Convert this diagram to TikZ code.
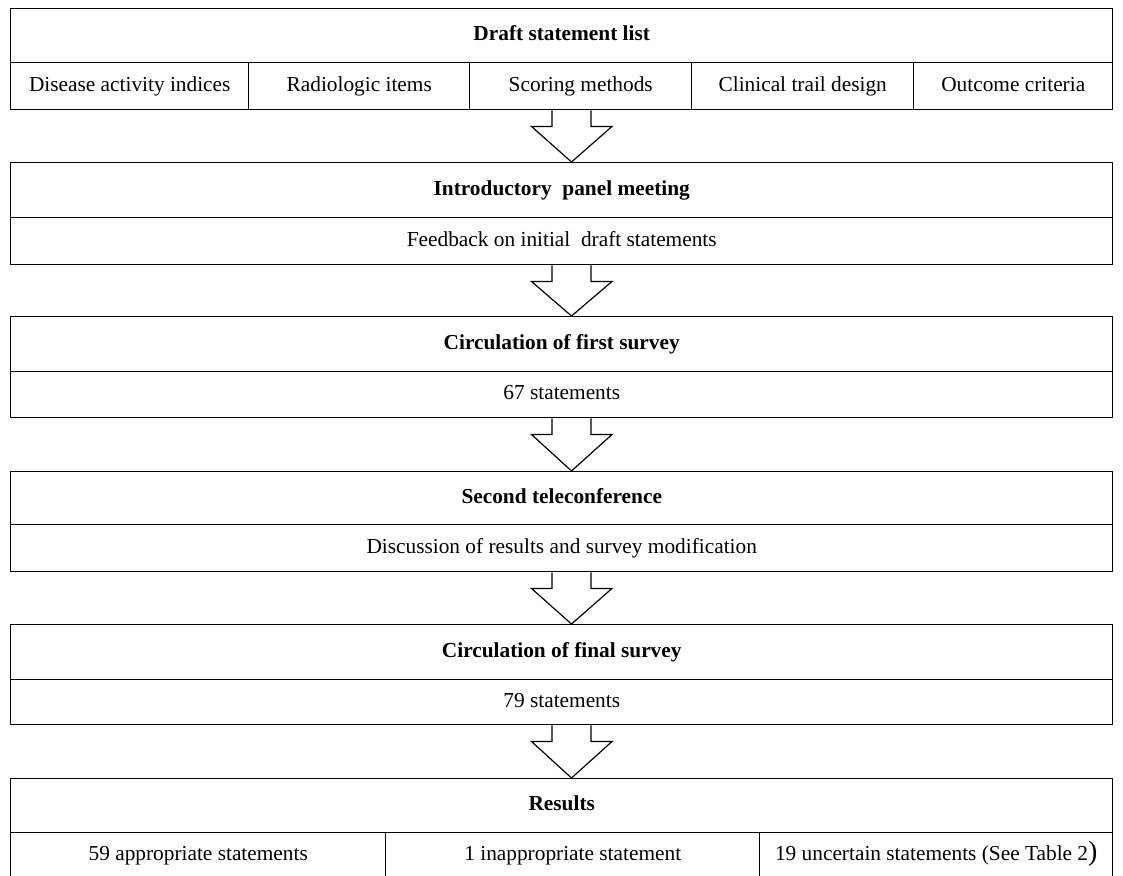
\documentclass[tikz,border=0pt]{standalone}
\usepackage{fontspec}
\setmainfont{Liberation Serif}
\usetikzlibrary{calc}
\begin{document}
\begin{tikzpicture}[x=0.75pt,y=-0.75pt,
  cell/.style={draw=black, line width=1.1pt, inner sep=0pt, anchor=north west,
    text height=11pt, text depth=3.5pt,
    font=\fontsize{16}{19}\selectfont},
  hd/.style={cell, font=\fontsize{16}{19}\selectfont\bfseries},
  sz/.style n args={2}{minimum width=#1*0.75pt, minimum height=#2*0.75pt},
  bigarrow/.style={draw=black, line width=0.9pt, line join=miter}]
\useasboundingbox (0,0) rectangle (1123,875);
\coordinate (ax) at (571.5,0);
% Box 1
\node[hd, sz={1102}{54}] (h1) at (10,8) {Draft statement list};
\node[cell, sz={238}{47}] (r1c1) at (10,62) {Disease activity indices};
\node[cell, sz={221}{47}] (r1c2) at (248,62) {Radiologic items};
\node[cell, sz={222}{47}] (r1c3) at (469,62) {Scoring methods};
\node[cell, sz={222}{47}] (r1c4) at (691,62) {Clinical trail design};
\node[cell, sz={199}{47}] (r1c5) at (913,62) {Outcome criteria};
% Box 2
\node[hd, sz={1102}{55}] (h2) at (10,162) {Introductory\ \ panel meeting};
\node[cell, sz={1102}{47}] (r2) at (10,217) {Feedback on initial\ \ draft statements};
% Box 3
\node[hd, sz={1102}{55}] (h3) at (10,316) {Circulation of first survey};
\node[cell, sz={1102}{46}] (r3) at (10,371) {67 statements};
% Box 4
\node[hd, sz={1102}{53}] (h4) at (10,471) {Second teleconference};
\node[cell, sz={1102}{47}] (r4) at (10,524) {Discussion of results and survey modification};
% Box 5
\node[hd, sz={1102}{55}] (h5) at (10,624) {Circulation of final survey};
\node[cell, sz={1102}{45}] (r5) at (10,679) {79 statements};
% Box 6
\node[hd, sz={1102}{54}] (h6) at (10,778) {Results};
\node[cell, sz={375}{46}] (r6c1) at (10,832) {59 appropriate statements};
\node[cell, sz={374}{46}] (r6c2) at (385,832) {1 inappropriate statement};
\node[cell, sz={353}{46}] (r6c3) at (759,832) {19 uncertain statements (See Table 2{\fontsize{21}{21}\selectfont\raisebox{0.5pt}{)}}};
% Arrows
\foreach \a/\b in {r1c3/h2, r2/h3, r3/h4, r4/h5, r5/h6}{
  \draw[bigarrow] ($(\a.south -| ax)+(-19.5,0)$) -- ++(0,16) -- ++(-20.5,0)
     -- (\b.north -| ax) -- ($(\a.south -| ax)+(40.5,16)$) -- ++(-21,0) -- ++(0,-16);
}
\end{tikzpicture}
\end{document}
